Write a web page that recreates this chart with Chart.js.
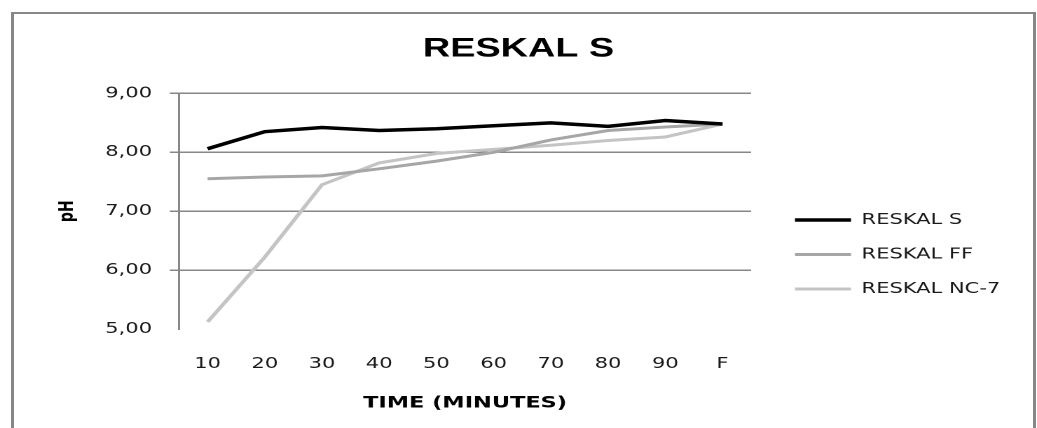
<!DOCTYPE html>
<html>
<head>
<meta charset="utf-8">
<script src="https://cdn.jsdelivr.net/npm/chart.js@4.4.1/dist/chart.umd.min.js"></script>
<style>
  html, body { margin: 0; padding: 0; background: #fff; overflow: hidden; }
  #frame { position: absolute; left: 11px; top: 12px; width: 1025px; height: 440px; box-sizing: border-box;
           border: 3px solid #878787; border-top-width: 2px; border-bottom: none; }
  #chart { position: absolute; left: 0; top: 0; }
</style>
</head>
<body>
<div id="frame"></div>
<!-- the original picture is stretched sideways, so the chart is drawn narrow and widened by CSS -->
<canvas id="chart" width="740" height="428" style="width:1037px;height:428px"></canvas>
<script>
const timeLabels = ['10', '20', '30', '40', '50', '60', '70', '80', '90', 'F'];
const reskalS   = [8.06, 8.35, 8.42, 8.37, 8.40, 8.45, 8.50, 8.44, 8.54, 8.48];
const reskalFF  = [7.55, 7.58, 7.60, 7.72, 7.85, 8.00, 8.21, 8.37, 8.43, 8.48];
const reskalNC7 = [5.12, 6.22, 7.45, 7.82, 7.98, 8.05, 8.12, 8.20, 8.26, 8.48];
const seriesNames  = ['RESKAL S', 'RESKAL FF', 'RESKAL NC-7'];
const seriesColors = ['#000000', '#a6a6a6', '#c4c4c4'];
const yMin = 5;
const yMax = 9;

const textColor = '#1a1a1a';
const gridColor = '#878787';

// put the legend where the original has it
const legendPlace = {
  id: 'legendPlace',
  afterLayout(chart) {
    const lg = chart.legend;
    lg.left = 547.8;
    lg.right = 740;
    lg.width = lg.right - lg.left;
    lg.top = 193;
    lg.bottom = 428;
    lg.height = lg.bottom - lg.top;
  }
};

const seriesValues = [reskalS, reskalFF, reskalNC7];

new Chart(document.getElementById('chart'), {
  type: 'line',
  data: {
    labels: timeLabels,
    datasets: seriesValues.map((vals, i) => ({
      label: seriesNames[i],
      data: vals,
      borderColor: seriesColors[i],
      backgroundColor: seriesColors[i],
      borderWidth: i === 0 ? 3.5 : 3,
      pointRadius: 0,
      tension: 0
    }))
  },
  options: {
    responsive: false,
    animation: false,
    devicePixelRatio: 2,
    layout: { padding: { left: 38, right: 38, top: 0, bottom: 0 } },
    plugins: {
      title: {
        display: true,
        text: 'RESKAL S',
        color: '#000',
        font: { family: 'Liberation Sans', size: 27, weight: 'bold' },
        padding: { top: 33, bottom: 28 }
      },
      legend: {
        position: 'right',
        align: 'start',
        labels: {
          usePointStyle: true,
          pointStyle: 'line',
          pointStyleWidth: 40,
          padding: 19.5,
          color: textColor,
          font: { family: 'DejaVu Sans', size: 15 }
        }
      },
      tooltip: { enabled: false }
    },
    scales: {
      x: {
        offset: true,
        grid: { display: false, drawTicks: false },
        border: { display: false },
        ticks: { color: textColor, font: { family: 'DejaVu Sans', size: 15 }, padding: 26 },
        title: {
          display: true,
          text: 'TIME (MINUTES)',
          color: '#000',
          font: { family: 'DejaVu Sans', size: 16, weight: 'bold' },
          padding: { top: 0, bottom: 15 }
        },
        afterFit: s => { s.height = 99; }
      },
      y: {
        min: yMin,
        max: yMax,
        ticks: {
          stepSize: 1,
          padding: 12.7,
          color: textColor,
          font: { family: 'DejaVu Sans', size: 15 },
          callback: v => v.toFixed(2).replace('.', ',')
        },
        grid: {
          color: c => (c.tick && c.tick.value === yMin) ? 'rgba(0,0,0,0)' : gridColor,
          lineWidth: 1.5,
          tickLength: 6.5
        },
        border: { color: gridColor, width: 1.5 },
        title: {
          display: true,
          text: 'pH',
          color: '#000',
          font: { family: 'DejaVu Sans', size: 14, weight: 'bold' },
          padding: { top: 2, bottom: 0 }
        },
        afterFit: s => { s.width = 89.7; }
      }
    }
  },
  plugins: [legendPlace]
});
</script>
</body>
</html>
